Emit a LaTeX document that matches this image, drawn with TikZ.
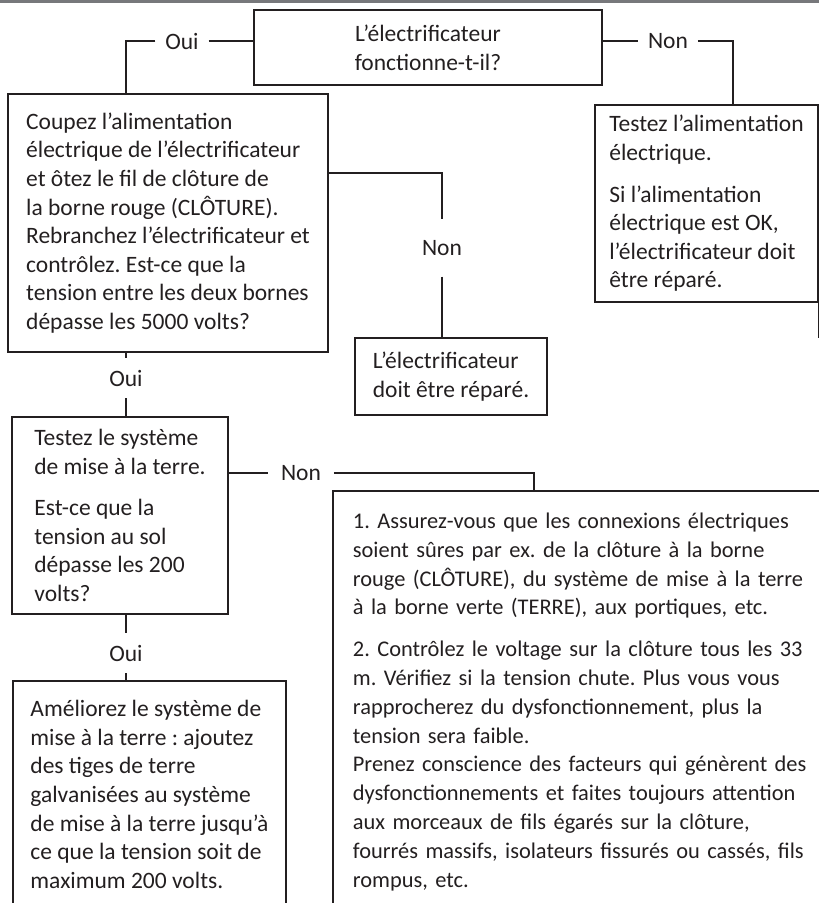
\documentclass[tikz,border=0pt]{standalone}
\usepackage{fontspec}
\setmainfont{Carlito}
\frenchspacing
\definecolor{ink}{HTML}{231F20}
\definecolor{rulegray}{HTML}{77787B}

\begin{document}
\begin{tikzpicture}[x=1pt, y=-1pt, color=ink, line width=1.8pt, font=\fontsize{23.5}{28.6}\selectfont]
        \tikzstyle{every node}=[inner sep=0pt]
        \tikzstyle{box}=[draw, align=left, inner xsep=14pt, inner ysep=8pt]
        \tikzstyle{openbox}=[box, anchor=north west]
        \tikzstyle{tag}=[inner xsep=9pt, inner ysep=11pt]
        \useasboundingbox (0,0) rectangle (819,903);
        \clip (0,0) rectangle (819,903);
        \draw[rulegray, line width=3pt] (0,1.5) -- (819,1.5);

        % first question
        \node[box, align=center, minimum width=348pt, minimum height=75pt] (q1) at (428,47.5) {L’électrificateur\\fonctionne-t-il?};
        \node[tag] (oui1) at (182,41) {Oui};
        \node[tag] (non1) at (668,41) {Non};

        % right branch
        \node[box, minimum width=221pt, minimum height=197pt] (alim) at (706.5,203.5) {Testez l’alimentation\\électrique.\\[13pt]Si l’alimentation\\électrique est OK,\\l’électrificateur doit\\être réparé.};
        \coordinate (alimtail) at ([yshift=-35pt]alim.south east);

        % second question
        \node[box, minimum width=320pt, minimum height=258pt] (q2) at (168,223) {Coupez l’alimentation\\électrique de l’électrificateur\\et ôtez le fil de clôture de\\la borne rouge (CLÔTURE).\\Rebranchez l’électrificateur et\\contrôlez. Est-ce que la\\tension entre les deux bornes\\dépasse les 5000 volts?};
        \node[tag, inner ysep=20pt] (non2) at (442,248) {Non};
        \node[box, minimum width=192pt, minimum height=77pt] (repair) at (451,376.5) {L’électrificateur\\doit être réparé.};
        \node[tag] (oui2) at (126,378) {Oui};

        % third question
        \node[box, minimum width=216pt, minimum height=197pt] (q3) at (120,515.5) {Testez le système\\de mise à la terre.\\[13pt]Est-ce que la\\tension au sol\\dépasse les 200\\volts?};
        \node[tag, inner xsep=12pt] (non3) at (301,473) {Non};
        \coordinate (bend3) at (534,473);
        \node[tag] (oui3) at (126,653) {Oui};
        \node[openbox, minimum width=273pt, inner ysep=19.5pt] (earth) at (12,680) {Améliorez le système de\\mise à la terre : ajoutez\\des tiges de terre\\galvanisées au système\\de mise à la terre jusqu’à\\ce que la tension soit de\\maximum 200 volts.};
        \node[openbox, text width=480pt, inner xsep=20pt, inner ysep=22pt, font=\fontsize{22.4}{28.8}\selectfont] (checks) at (332,490) {1. Assurez-vous que les connexions électriques\\soient sûres par ex. de la clôture à la borne\\rouge (CLÔTURE), du système de mise à la terre\\à la borne verte (TERRE), aux portiques, etc.\\[13pt]2. Contrôlez le voltage sur la clôture tous les 33\\m. Vérifiez si la tension chute. Plus vous vous\\rapprocherez du dysfonctionnement, plus la\\tension sera faible.\\Prenez conscience des facteurs qui génèrent des\\dysfonctionnements et faites toujours attention\\aux morceaux de fils égarés sur la clôture,\\fourrés massifs, isolateurs fissurés ou cassés, fils\\rompus, etc.};

        % connectors
        \draw (oui1.east) -- (oui1 -| q1.west);
        \draw (oui1.west) -| (q2.north -| oui2);
        \draw (q1.east |- non1) -- (non1.west);
        \draw (non1.east) -| ([xshift=26.5pt]alim.north);
        \draw (alim.south east) -- (alimtail);
        \draw ([yshift=50pt]q2.east) -| (non2.north);
        \draw (non2.south) -- (non2.south |- repair.north);
        \draw (q2.south -| oui2) -- (oui2.north);
        \draw (oui2.south) -- (q3.north -| oui2);
        \draw (q3.east |- non3) -- (non3.west);
        \draw (non3.east) -- (bend3) -- (bend3 |- checks.north);
        \draw (q3.south -| oui3) -- (oui3.north);
        \draw (oui3.south) -- (earth.north -| oui3);
\end{tikzpicture}
\end{document}
